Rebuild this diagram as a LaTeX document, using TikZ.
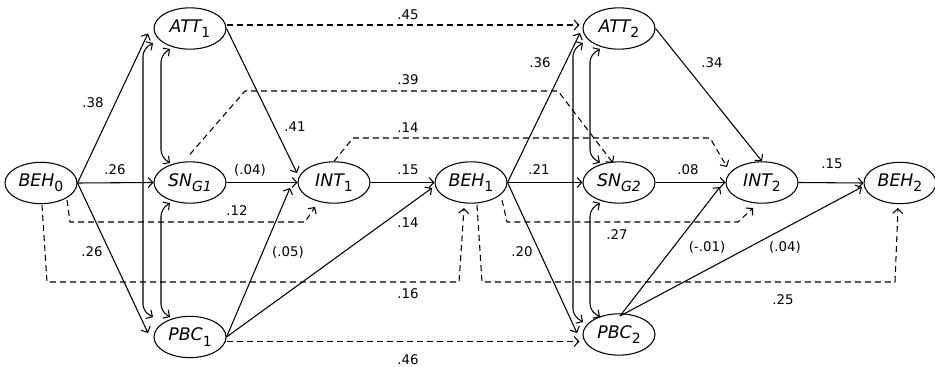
\documentclass[tikz,border=0pt]{standalone}
\usepackage{fontspec}
\setmainfont{DejaVu Sans}
\usetikzlibrary{shapes.geometric,calc,arrows.meta}
\newcommand\subsc[1]{\raisebox{-0.55ex}{\fontsize{10.5}{11}\selectfont #1}}
\newcommand\upsub[1]{\raisebox{-0.55ex}{\fontsize{10.5}{11}\selectfont\upshape #1}}
\begin{document}
\begin{tikzpicture}[x=0.75pt,y=-0.75pt,
  lat/.style={ellipse, draw, line width=0.8pt, minimum width=54pt, minimum height=31pt, inner sep=0pt, font=\fontsize{13}{15}\selectfont\itshape},
  tip/.tip={Straight Barb[length=3.5pt,width=7.5pt,line width=0.8pt]},
  pth/.style={draw, line width=0.8pt, -tip},
  dpth/.style={pth, dash pattern=on 4.5pt off 3pt},
  cov/.style={draw, line width=0.8pt, tip-tip, rounded corners=5pt},
  lab/.style={font=\fontsize{10}{12}\selectfont, inner sep=0pt}
]
\useasboundingbox (0,0) rectangle (935,367);

\node[lat] (BEH0) at (41,183) {BEH\upsub{0}};
\node[lat] (ATT1) at (190,28.5) {ATT\upsub{1}};
\node[lat] (SN1) at (190,182.5) {SN\subsc{G1}};
\node[lat] (PBC1) at (190,337) {PBC\upsub{1}};
\node[lat] (INT1) at (334,182.5) {INT\upsub{1}};
\node[lat] (BEH1) at (471,182.5) {BEH\upsub{1}};
\node[lat] (ATT2) at (619,28.5) {ATT\upsub{2}};
\node[lat] (SN2) at (619,182.5) {SN\subsc{G2}};
\node[lat] (PBC2) at (619,334.5) {PBC\upsub{2}};
\node[lat] (INT2) at (762,182.5) {INT\upsub{2}};
\node[lat] (BEH2) at (900,183) {BEH\upsub{2}};

% time 1 solid paths
\draw[pth] (BEH0.east) -- ($(ATT1)+(-42,5)$);
\draw[pth] (BEH0.east) -- (SN1.west);
\draw[pth] (BEH0.east) -- ($(PBC1)+(-42,-4)$);
\draw[pth] (ATT1.east) -- ($(INT1)+(-37,-9.5)$);
\draw[pth] (SN1.east) -- (INT1.west);
\draw[pth] (PBC1.east) -- ($(INT1)+(-44,5.5)$);
\draw[pth] (PBC1.east) -- ($(BEH1)+(-39,5.5)$);
\draw[pth] (INT1.east) -- (BEH1.west);

% time 1 covariances
\draw[cov] ($(ATT1)+(-37,14.5)$) -- ($(ATT1)+(-47,21)$) -- ($(PBC1)+(-47,-26)$) -- ($(PBC1)+(-37,-20)$);
\draw[cov] ($(ATT1)+(-20,20.5)$) -- ($(ATT1)+(-29,27)$) -- ($(SN1)+(-29,-26)$) -- ($(SN1)+(-20,-19.5)$);
\draw[cov] ($(SN1)+(-20,20.5)$) -- ($(SN1)+(-29,27)$) -- ($(PBC1)+(-29,-26)$) -- ($(PBC1)+(-20,-20)$);

% dashed cross-lagged paths
\draw[dpth] ($(ATT1.east)+(0,-3.5)$) -- ($(ATT2.west)+(-3,-3.5)$);
\draw[dpth] ($(PBC1.east)+(0,4.5)$) -- ($(PBC2.west)+(-3,7)$);
\draw[dpth] ($(SN1.north)+(0,-7)$) -- ($(SN1)+(55,-91.5)$) -- ($(SN2)+(-61,-91.5)$) -- ($(SN2)+(-6,-19.5)$);
\draw[dpth] (INT1.north) -- ($(INT1)+(19,-44.5)$) -- ($(INT2)+(-52,-44.5)$) -- ($(INT2)+(-35,-15.5)$);
\draw[dpth] ($(BEH0)+(26,17)$) -- ($(BEH0)+(29,39)$) -- ($(INT1)+(-29,39.5)$) -- ($(INT1)+(-19,24.5)$);
\draw[dpth] ($(BEH0)+(1,22)$) -- ($(BEH0)+(6,99)$) -- ($(BEH1)+(-12,99.5)$) -- ($(BEH1)+(-7,25.5)$);
\draw[dpth] ($(BEH1)+(31,17.5)$) -- ($(BEH1)+(36,39.5)$) -- ($(INT2)+(-24,39.5)$) -- ($(INT2)+(-9,25.5)$);
\draw[dpth] ($(BEH1)+(6,22.5)$) -- ($(BEH1)+(11,99.5)$) -- ($(BEH2)+(-5,99)$) -- ($(BEH2)+(-2,25)$);

% time 2 solid paths
\draw[pth] (BEH1.east) -- ($(ATT2)+(-39,4.5)$);
\draw[pth] (BEH1.east) -- (SN2.west);
\draw[pth] (BEH1.east) -- ($(PBC2)+(-42,-1.5)$);
\draw[pth] (ATT2.east) -- (INT2.north);
\draw[pth] (SN2.east) -- (INT2.west);
\draw[pth] ($(PBC2)+(1,-18.5)$) -- ($(INT2)+(-42,4.5)$);
\draw[pth] ($(PBC2)+(1,-18.5)$) -- ($(BEH2)+(-38,4)$);
\draw[pth] (INT2.east) -- (BEH2.west);

% time 2 covariances
\draw[cov] ($(ATT2)+(-36,14.5)$) -- ($(ATT2)+(-46,21)$) -- ($(PBC2)+(-46,-19)$) -- ($(PBC2)+(-36,-12.5)$);
\draw[cov] ($(ATT2)+(-19,20.5)$) -- ($(ATT2)+(-29,27)$) -- ($(SN2)+(-29,-26)$) -- ($(SN2)+(-19,-20)$);
\draw[cov] ($(SN2)+(-19,20.5)$) -- ($(SN2)+(-29,27)$) -- ($(PBC2)+(-29,-24)$) -- ($(PBC2)+(-19,-17.5)$);

% labels
\node[lab] (l1) at (93,103) {.38};
\node[lab] (l2) at (115,170) {.26};
\node[lab] (l3) at (92,252) {.26};
\node[lab] (l4) at (295,127) {.41};
\node[lab] (l5) at (250,170) {(.04)};
\node[lab] (l6) at (288,252) {(.05)};
\node[lab] (l7) at (408,223) {.14};
\node[lab] (l8) at (408,170) {.15};
\node[lab] (l9) at (408,15) {.45};
\node[lab] (l10) at (408,80) {.39};
\node[lab] (l11) at (408,128) {.14};
\node[lab] (l12) at (237,211) {.12};
\node[lab] (l13) at (408,294) {.16};
\node[lab] (l14) at (408,360) {.46};
\node[lab] (l15) at (540,63) {.36};
\node[lab] (l16) at (539,170) {.21};
\node[lab] (l17) at (522,252) {.20};
\node[lab] (l18) at (617,235) {.27};
\node[lab] (l19) at (783,300) {.25};
\node[lab] (l20) at (712,63) {.34};
\node[lab] (l21) at (688,170) {.08};
\node[lab] (l22) at (707,247) {(-.01)};
\node[lab] (l23) at (785,247) {(.04)};
\node[lab] (l24) at (832,164) {.15};
\end{tikzpicture}
\end{document}
